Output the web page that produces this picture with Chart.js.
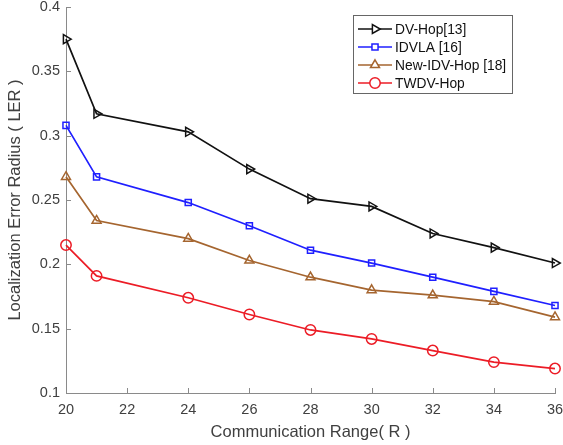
<!DOCTYPE html>
<html>
<head>
<meta charset="utf-8">
<script src="https://cdn.jsdelivr.net/npm/chart.js@4.4.1/dist/chart.umd.min.js"></script>
<style>
  html, body { margin: 0; padding: 0; background: #fff; }
  #wrap { width: 563px; height: 445px; }
</style>
</head>
<body>
<div id="wrap"><canvas id="lerChart" width="563" height="445"></canvas></div>
<script>
// communication range values (x) and LER for each method
const ranges = [20, 21, 24, 26, 28, 30, 32, 34, 36];
const dvHop = [0.375, 0.317, 0.303, 0.274, 0.251, 0.245, 0.224, 0.213, 0.201];
const idvla = [0.308, 0.268, 0.248, 0.230, 0.211, 0.201, 0.190, 0.179, 0.168];
const newIdvHop = [0.268, 0.234, 0.220, 0.203, 0.190, 0.180, 0.176, 0.171, 0.159];
const twdvHop = [0.215, 0.191, 0.174, 0.161, 0.149, 0.142, 0.133, 0.124, 0.119];

const seriesNames = ['DV-Hop[13]', 'IDVLA [16]', 'New-IDV-Hop [18]', 'TWDV-Hop'];
const xTicks = [20, 22, 24, 26, 28, 30, 32, 34, 36];
const yTicks = [0.1, 0.15, 0.2, 0.25, 0.3, 0.35, 0.4];

const FONT = 'Liberation Sans, Arial, Helvetica, sans-serif';
const AXIS_GRAY = '#8a8a8a';
const TEXT_GRAY = '#404040';

function toPoints(values) {
    return values.map((v, i) => ({ x: ranges[i], y: v }));
}

function makeDataset(label, values, color, style, rotation) {
    return {
        label: label,
        data: toPoints(values),
        borderColor: color,
        backgroundColor: 'rgba(0,0,0,0)',
        borderWidth: 1.7,
        pointStyle: style,
        pointRotation: rotation || 0,
        pointRadius: style === 'rect' ? 4.3 : 5.2,
        pointBorderWidth: 1.5,
        pointBorderColor: color,
        pointBackgroundColor: 'rgba(0,0,0,0)',
        tension: 0,
        clip: false
    };
}

// matlab style: ticks pointing into the plot area
const inwardTicks = {
    id: 'inwardTicks',
    beforeDatasetsDraw(chart) {
        const ctx = chart.ctx;
        const area = chart.chartArea;
        const xs = chart.scales.x;
        const ys = chart.scales.y;
        ctx.save();
        ctx.strokeStyle = AXIS_GRAY;
        ctx.lineWidth = 1;
        ctx.beginPath();
        xs.ticks.forEach(t => {
            const px = Math.round(xs.getPixelForValue(t.value)) + 0.5;
            ctx.moveTo(px, area.bottom);
            ctx.lineTo(px, area.bottom - 5);
        });
        ys.ticks.forEach(t => {
            const py = Math.round(ys.getPixelForValue(t.value)) + 0.5;
            ctx.moveTo(area.left, py);
            ctx.lineTo(area.left + 5, py);
        });
        ctx.stroke();
        ctx.restore();
    }
};

// legend box in the upper right corner of the plot
const boxLegend = {
    id: 'boxLegend',
    afterDraw(chart) {
        const ctx = chart.ctx;
        const left = 353, top = 15, width = 159, height = 78;
        const rowH = 18;
        ctx.save();
        ctx.fillStyle = '#fff';
        ctx.fillRect(left, top, width, height);
        ctx.strokeStyle = '#666';
        ctx.lineWidth = 1;
        ctx.strokeRect(left + 0.5, top + 0.5, width, height);
        ctx.font = '13.8px ' + FONT;
        ctx.textBaseline = 'middle';
        chart.data.datasets.forEach((ds, i) => {
            const y = top + 14 + i * rowH;
            ctx.strokeStyle = ds.borderColor;
            ctx.lineWidth = ds.borderWidth;
            ctx.beginPath();
            ctx.moveTo(left + 5, y);
            ctx.lineTo(left + 39, y);
            ctx.stroke();
            ctx.lineWidth = ds.pointBorderWidth;
            ctx.fillStyle = '#fff';
            Chart.helpers.drawPoint(ctx, {
                pointStyle: ds.pointStyle,
                rotation: ds.pointRotation,
                radius: ds.pointRadius,
                borderWidth: ds.pointBorderWidth
            }, left + 22, y);
            ctx.fillStyle = '#111';
            ctx.fillText(ds.label, left + 42, y + 1);
        });
        ctx.restore();
    }
};

const ctx = document.getElementById('lerChart').getContext('2d');
new Chart(ctx, {
    type: 'line',
    data: {
        datasets: [
            makeDataset(seriesNames[0], dvHop, '#111111', 'triangle', 90),
            makeDataset(seriesNames[1], idvla, '#1f1fff', 'rect'),
            makeDataset(seriesNames[2], newIdvHop, '#a5652f', 'triangle'),
            makeDataset(seriesNames[3], twdvHop, '#ec1c26', 'circle')
        ]
    },
    options: {
        responsive: false,
        animation: false,
        layout: { padding: 0 },
        plugins: {
            legend: { display: false },
            tooltip: { enabled: false }
        },
        scales: {
            x: {
                type: 'linear',
                min: 20,
                max: 36,
                afterBuildTicks: axis => { axis.ticks = xTicks.map(v => ({ value: v })); },
                afterFit: axis => {
                    axis.height = 52;
                    axis.paddingLeft = 0;
                    axis.paddingRight = 8;
                },
                grid: { display: false, drawTicks: false },
                border: { display: true, color: AXIS_GRAY, width: 1 },
                ticks: {
                    color: TEXT_GRAY,
                    font: { family: FONT, size: 14.5 },
                    padding: 8,
                    maxRotation: 0
                },
                title: {
                    display: true,
                    text: 'Communication Range( R )',
                    color: TEXT_GRAY,
                    font: { family: FONT, size: 16.5 },
                    padding: { top: 0, bottom: 3 }
                }
            },
            y: {
                min: 0.1,
                max: 0.4,
                afterBuildTicks: axis => { axis.ticks = yTicks.map(v => ({ value: v })); },
                afterFit: axis => {
                    axis.width = 66;
                    axis.paddingTop = 7;
                    axis.paddingBottom = 0;
                },
                grid: { display: false, drawTicks: false },
                border: { display: true, color: AXIS_GRAY, width: 1 },
                ticks: {
                    color: TEXT_GRAY,
                    font: { family: FONT, size: 14.5 },
                    padding: 6,
                    callback: v => String(parseFloat(v.toFixed(2)))
                },
                title: {
                    display: true,
                    text: 'Localization Error Radius ( LER )',
                    color: TEXT_GRAY,
                    font: { family: FONT, size: 16.5 },
                    padding: { top: 6, bottom: 0 }
                }
            }
        }
    },
    plugins: [inwardTicks, boxLegend]
});
</script>
</body>
</html>
